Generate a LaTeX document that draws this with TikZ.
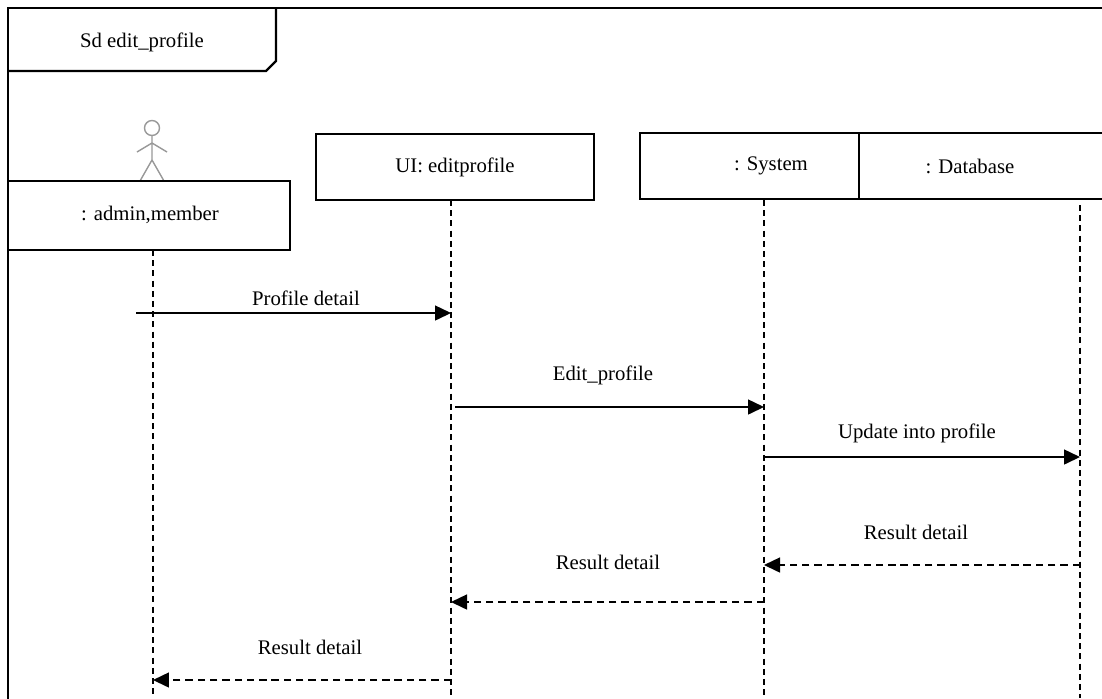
\documentclass[tikz,border=0pt]{standalone}
\usepackage{fontspec}
\setmainfont{Liberation Serif}
\usetikzlibrary{arrows.meta}

\begin{document}
\begin{tikzpicture}[x=0.02cm,y=-0.02cm,>={Triangle[length=0.32cm,width=0.3cm]},
        every node/.style={font=\fontsize{11.8pt}{14pt}\selectfont},
        box/.style={line width=1pt},
        lifeline/.style={line width=0.6pt,dash pattern=on 3.4pt off 2.4pt},
        msg/.style={->,line width=0.85pt},
        reply/.style={->,line width=0.85pt,dash pattern=on 4.2pt off 2.8pt}]
            % page and frame
            \clip (0,0) rectangle (1102,698);
            \fill[white] (0,0) rectangle (1102,698);
            \draw[line width=1.3pt] (8,720) -- (8,8) -- (1120,8);
            \draw[line width=1.3pt] (8,71) -- (266,71) -- (276,61) -- (276,8);
            \node (title) at (142,42) {Sd edit\_profile};

            % the actor
            \draw[gray!80,line width=0.8pt] (152,128) circle (7.5);
            \draw[gray!80,line width=0.8pt] (152,135.5) -- (152,160)
                (137,152) -- (152,143) -- (167,152)
                (140,181) -- (152,160) -- (164,181);

            % the boxes
            \draw[box] (8,181) rectangle (290,250);
            \node (actor) at (150,215) {: admin,member};
            \draw[box] (316,134) rectangle (594,200);
            \node (ui) at (455,167) {UI: editprofile};
            \draw[box] (640,133) rectangle (859,199);
            \node (sys) at (771,166) {: System};
            \draw[box] (859,133) rectangle (1120,199);
            \node (db) at (970,166) {: Database};

            % lifelines
            \coordinate (atop) at (153,250);
            \coordinate (utop) at (451,200);
            \coordinate (stop) at (764,200);
            \coordinate (dtop) at (1080,205);
            \draw[lifeline] (atop) -- (atop |- 0,698);
            \draw[lifeline] (utop) -- (utop |- 0,698);
            \draw[lifeline] (stop) -- (stop |- 0,698);
            \draw[lifeline] (dtop) -- (dtop |- 0,698);

            % messages
            \coordinate (m1) at (136,313);
            \draw[msg] (m1) -- (utop |- m1);
            \node (t1) at (306,298) {Profile detail};
            \coordinate (m2) at (455,407);
            \draw[msg] (m2) -- (stop |- m2);
            \node (t2) at (603,375) {Edit\_profile};
            \coordinate (m3) at (764,457);
            \draw[msg] (m3) -- (dtop |- m3);
            \node (t3) at (917,433) {Update into profile};

            % replies
            \coordinate (r1) at (1080,565);
            \draw[reply] (r1) -- (stop |- r1);
            \node (t4) at (916,532) {Result detail};
            \coordinate (r2) at (764,602);
            \draw[reply] (r2) -- (utop |- r2);
            \node (t5) at (608,562) {Result detail};
            \coordinate (r3) at (451,680);
            \draw[reply] (r3) -- (atop |- r3);
            \node (t6) at (310,647) {Result detail};
        \end{tikzpicture}
\end{document}
